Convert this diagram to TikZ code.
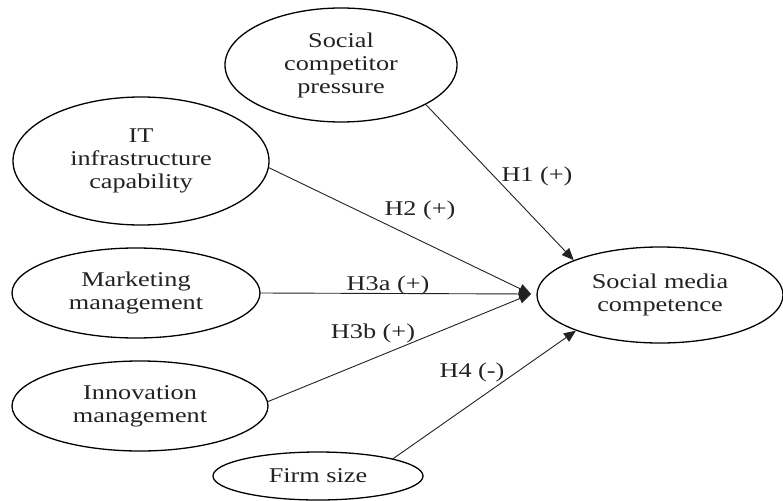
\documentclass[tikz,border=0pt]{standalone}
\usepackage{fontspec}
\setmainfont[FakeStretch=1.25]{Liberation Serif}
\usetikzlibrary{shapes.geometric,arrows.meta}
\definecolor{ink}{HTML}{222222}
\begin{document}
\begin{tikzpicture}[x=1pt,y=-1pt,
  construct/.style={ellipse,draw=black,line width=1.3pt,inner sep=0pt,align=center,text=ink,
    font=\fontsize{21}{23}\selectfont},
  path/.style={draw=ink,line width=0.9pt,-{Triangle[length=12pt,width=10pt]}},
  hyp/.style={text=ink,font=\fontsize{21}{23}\selectfont,inner sep=0pt}]
\useasboundingbox[fill=white] (0,0) rectangle (783,500);
\node[construct,minimum width=232pt,minimum height=114pt] (spc) at (341,65) {Social\\competitor\\pressure};
\node[construct,minimum width=256pt,minimum height=128pt] (it) at (141,161) {IT\\infrastructure\\capability};
\node[construct,minimum width=248pt,minimum height=90pt] (mm) at (136,293) {Marketing\\management};
\node[construct,minimum width=256pt,minimum height=90pt] (im) at (140,406) {Innovation\\management};
\node[construct,minimum width=210pt,minimum height=48pt] (fs) at (318,476) {Firm size};
\node[construct,minimum width=246pt,minimum height=96pt] (smc) at (660,295) {Social media\\competence};
\coordinate (conv) at (531,294);
\draw[path] (spc.-25) -- (smc.158);
\draw[path] (it.-3) -- (conv);
\draw[path] (mm.east) -- (conv);
\draw[path] (im.2) -- (conv);
\draw[path] (fs.13) -- (smc.203);
\node[hyp] (h1) at (537,176) {H1 (+)};
\node[hyp] (h2) at (420,210) {H2 (+)};
\node[hyp] (h3a) at (388,285) {H3a (+)};
\node[hyp] (h3b) at (373,333) {H3b (+)};
\node[hyp] (h4) at (472,372) {H4 (-)};
\end{tikzpicture}
\end{document}
